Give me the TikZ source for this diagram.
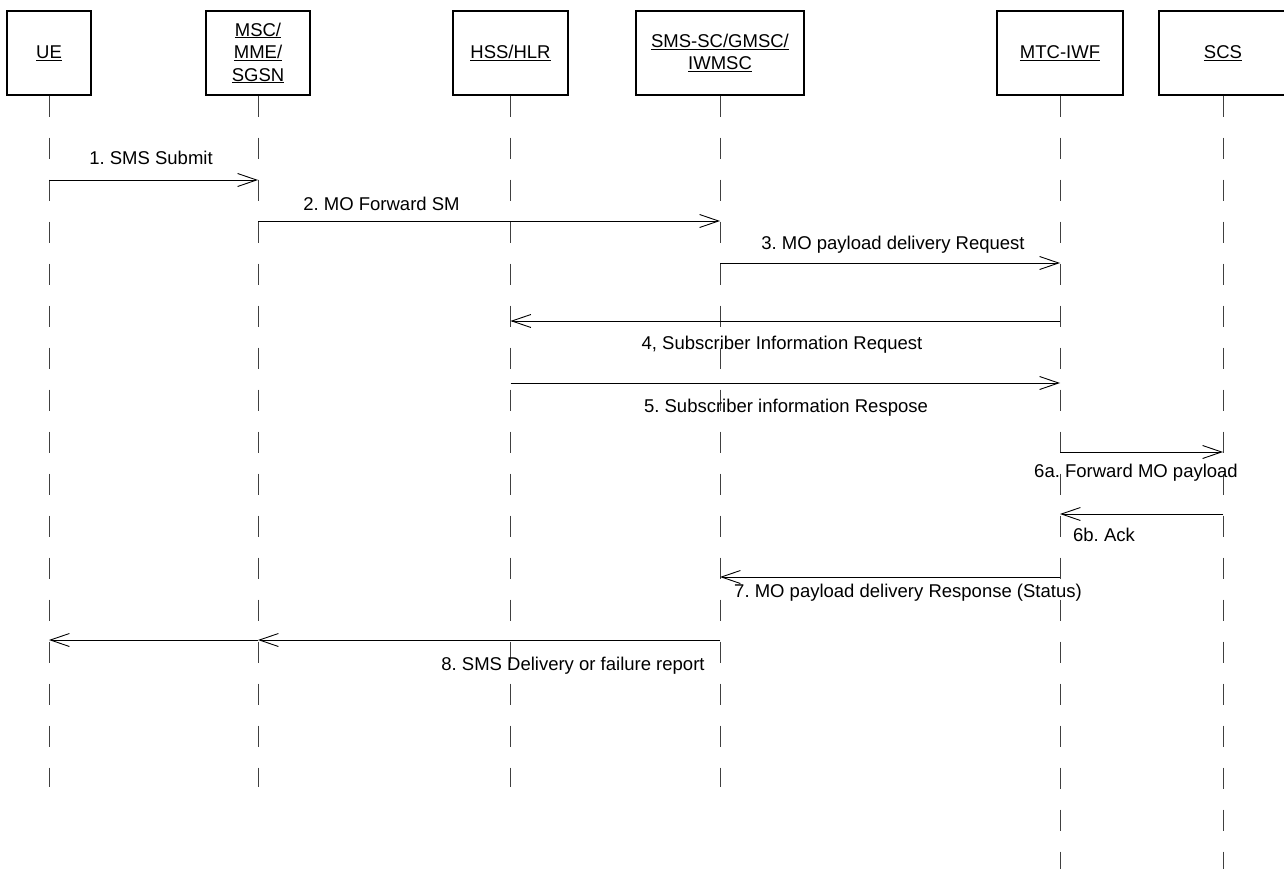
\documentclass[tikz,border=0pt]{standalone}
\usepackage{fontspec}
\setmainfont{Liberation Sans}
\usetikzlibrary{arrows.meta}
\frenchspacing
\begin{document}
\begin{tikzpicture}[x=1pt,y=-1pt,
  font=\fontsize{18.5}{22.5}\selectfont\frenchspacing,
  box/.style={draw, line width=1.1pt, minimum height=84pt, inner sep=0pt, align=center},
  life/.style={line width=0.8pt, black!75, dash pattern=on 21pt off 21pt},
  msg/.style={line width=0.9pt, -{Straight Barb[length=19pt,width=13pt,line width=0.9pt]}},
  lbl/.style={inner sep=0pt, anchor=base}]
\useasboundingbox (0,0) rectangle (1284,869);
% entities
\node[box, minimum width=84pt]  (ue)  at (49,53)   {\underline{UE}};
\node[box, minimum width=104pt] (msc) at (258,53)  {\underline{MSC/}\\\underline{MME/}\\\underline{SGSN}};
\node[box, minimum width=115pt] (hss) at (510.5,53) {\underline{HSS/HLR}};
\node[box, minimum width=168pt] (smsc) at (720,53) {\underline{SMS-SC/GMSC/}\\\underline{IWMSC}};
\node[box, minimum width=126pt] (iwf) at (1060,53) {\underline{MTC-IWF}};
\node[box, minimum width=128pt] (scs) at (1223,53) {\underline{SCS}};
% lifeline ends
\coordinate (ueE)   at (49,787);
\coordinate (mscE)  at (258,787);
\coordinate (hssE)  at (510.5,787);
\coordinate (smscE) at (720,787);
\coordinate (iwfE)  at (1060,869);
\coordinate (scsE)  at (1223,869);
\draw[life] (ue.south) -- (ueE);
\draw[life] (msc.south) -- (mscE);
\draw[life] (hss.south) -- (hssE);
\draw[life] (smsc.south) -- (smscE);
\draw[life] (iwf.south) -- (iwfE);
\draw[life] (scs.south) -- (scsE);
% message points
\coordinate (m1a) at (49,180);   \coordinate (m1b) at (258,180);
\coordinate (m2a) at (258,221);  \coordinate (m2b) at (720,221);
\coordinate (m3a) at (720,263);  \coordinate (m3b) at (1060,263);
\coordinate (m4a) at (1060,321); \coordinate (m4b) at (510.5,321);
\coordinate (m5a) at (510.5,383); \coordinate (m5b) at (1060,383);
\coordinate (m6a) at (1060,452); \coordinate (m6b) at (1223,452);
\coordinate (m7a) at (1223,514); \coordinate (m7b) at (1060,514);
\coordinate (m8a) at (1060,577); \coordinate (m8b) at (720,577);
\coordinate (m9a) at (720,640);  \coordinate (m9b) at (258,640);
\coordinate (m9c) at (49,640);
\draw[msg] (m1a) -- (m1b);
\draw[msg] (m2a) -- (m2b);
\draw[msg] (m3a) -- (m3b);
\draw[msg] (m4a) -- (m4b);
\draw[msg] (m5a) -- (m5b);
\draw[msg] (m6a) -- (m6b);
\draw[msg] (m7a) -- (m7b);
\draw[msg] (m8a) -- (m8b);
\draw[msg] (m9a) -- (m9b);
\draw[msg] (m9b) -- (m9c);
% labels
\node[lbl] (l1) at (151,165) {1. SMS Submit};
\node[lbl] (l2) at (381.5,211) {2. MO Forward SM};
\node[lbl] (l3) at (893,249) {3. MO payload delivery Request};
\node[lbl] (l4) at (782,349) {4, Subscriber Information Request};
\node[lbl] (l5) at (786,412) {5. Subscriber information Respose};
\node[lbl] (l6) at (1136,477) {6a. Forward MO payload};
\node[lbl] (l7) at (1104,541) {6b. Ack};
\node[lbl] (l8) at (908,597) {7. MO payload delivery Response (Status)};
\node[lbl] (l9) at (573,670) {8. SMS Delivery or failure report};
\end{tikzpicture}
\end{document}
